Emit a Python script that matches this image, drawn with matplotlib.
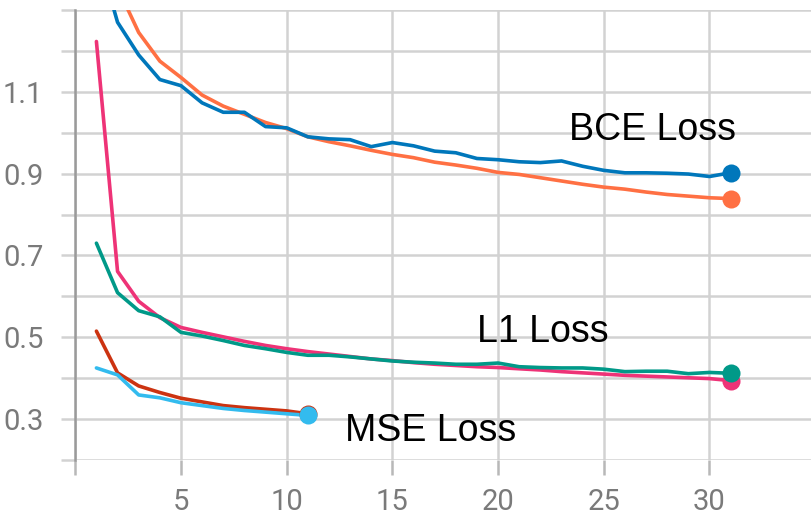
import numpy as np
import matplotlib.pyplot as plt
from matplotlib.ticker import MultipleLocator, FixedLocator, FuncFormatter

# training loss curves, one value per epoch
epochs_long = list(range(1, 32))
epochs_short = list(range(1, 12))

bce_a = [1.45, 1.27, 1.19, 1.13, 1.115, 1.073, 1.05, 1.05, 1.015, 1.012,
         0.99, 0.985, 0.983, 0.966, 0.976, 0.968, 0.955, 0.951, 0.937, 0.934,
         0.929, 0.927, 0.931, 0.918, 0.908, 0.902, 0.902, 0.901, 0.899, 0.893,
         0.902]
bce_b = [1.6, 1.355, 1.245, 1.175, 1.135, 1.092, 1.065, 1.045, 1.025, 1.01,
         0.99, 0.978, 0.968, 0.957, 0.947, 0.939, 0.928, 0.921, 0.913, 0.903,
         0.898, 0.89, 0.882, 0.874, 0.867, 0.862, 0.855, 0.849, 0.845, 0.841,
         0.839]
l1_a = [1.223, 0.661, 0.588, 0.548, 0.524, 0.512, 0.501, 0.49, 0.48, 0.472,
        0.465, 0.459, 0.453, 0.447, 0.443, 0.438, 0.434, 0.431, 0.428, 0.426,
        0.423, 0.42, 0.416, 0.413, 0.41, 0.407, 0.405, 0.403, 0.401, 0.399,
        0.394]
l1_b = [0.73, 0.609, 0.565, 0.55, 0.512, 0.503, 0.492, 0.48, 0.472, 0.463,
        0.456, 0.456, 0.452, 0.447, 0.442, 0.439, 0.437, 0.434, 0.434, 0.437,
        0.428, 0.426, 0.425, 0.425, 0.422, 0.416, 0.417, 0.417, 0.411, 0.414,
        0.412]
mse_a = [0.515, 0.413, 0.381, 0.365, 0.351, 0.342, 0.333, 0.328, 0.324, 0.32,
         0.313]
mse_b = [0.425, 0.408, 0.359, 0.352, 0.34, 0.333, 0.326, 0.321, 0.317, 0.313,
         0.309]

series = [
    (epochs_long, bce_b, '#ff7043'),
    (epochs_long, bce_a, '#0077bb'),
    (epochs_long, l1_a, '#ee3377'),
    (epochs_long, l1_b, '#009988'),
    (epochs_short, mse_a, '#cc3311'),
    (epochs_short, mse_b, '#33bbee'),
]

labels = [('BCE Loss', 27.3, 1.007), ('L1 Loss', 22.1, 0.514), ('MSE Loss', 16.8, 0.271)]
y_labelled = [0.3, 0.5, 0.7, 0.9, 1.1]

fig = plt.figure(figsize=(8.12, 5.15), dpi=100)
ax = fig.add_axes([0.0927, 0.1068, 0.9073, 0.8738])

grid_col = '#d2d2d2'
for x, y, c in series:
    ax.plot(x, y, color=c, lw=2.6, solid_capstyle='round', solid_joinstyle='round', zorder=3)
    ax.plot(x[-1], y[-1], 'o', color=c, ms=13, mec='none', zorder=4)

for text, x, y in labels:
    ax.text(x, y, text, ha='center', va='center', fontsize=27,
            family='Liberation Sans', color='black', zorder=5)

ax.set_xlim(0, 34.85)
ax.set_ylim(0.2, 1.3)

ax.xaxis.set_major_locator(MultipleLocator(5))
ax.xaxis.set_major_formatter(FuncFormatter(lambda v, p: '' if v == 0 else '%d' % v))
ax.yaxis.set_major_locator(FixedLocator(y_labelled))
ax.yaxis.set_minor_locator(MultipleLocator(0.1))
ax.yaxis.set_major_formatter(FuncFormatter(lambda v, p: '%.1f' % v))

ax.grid(True, which='both', color=grid_col, lw=1.8, zorder=0)
ax.set_axisbelow(True)

for s in ['top', 'right', 'bottom']:
    ax.spines[s].set_visible(False)
ax.spines['left'].set_color('#9a9a9a')
ax.spines['left'].set_linewidth(1.8)

ax.tick_params(axis='y', which='both', length=10, width=1.8, color=grid_col,
               pad=13, labelsize=21, labelcolor='#7a7a7a')
ax.tick_params(axis='x', which='both', length=11, width=1.8, color='#b8b8b8',
               pad=9, labelsize=21, labelcolor='#7a7a7a')
for lab in ax.get_xticklabels() + ax.get_yticklabels():
    lab.set_family('Roboto')

fig.savefig('out.png', dpi=100)
